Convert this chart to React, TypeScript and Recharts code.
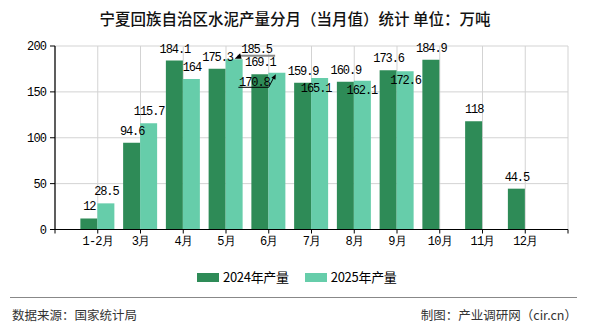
import React from "react";
import { BarChart, Bar, XAxis, YAxis, CartesianGrid, LabelList } from "recharts";

const categories = ["1-2月", "3月", "4月", "5月", "6月", "7月", "8月", "9月", "10月", "11月", "12月"];
const output2024 = [12, 94.6, 184.1, 175.3, 169.1, 159.9, 160.9, 173.6, 184.9, 118, 44.5];
const output2025: (number | null)[] = [28.5, 115.7, 164, 185.5, 170.8, 165.1, 162.1, 172.6, null, null, null];
const yTicks = [0, 50, 100, 150, 200];
const seriesNames = ["2024年产量", "2025年产量"];

const COLOR_2024 = "#2e8b57";
const COLOR_2025 = "#66cdaa";
const MONO = "'Liberation Mono', 'DejaVu Sans Mono', monospace";
const CJK = "'Noto Sans CJK SC', 'Noto Sans', sans-serif";

const rows = categories.map((c, i) => ({ x: i + 1, name: c, y2024: output2024[i], y2025: output2025[i] }));
const xTicks = Array.from({ length: categories.length + 2 }, (_, i) => i);

// label nudges (to avoid overlaps, as in the reference)
const nudge2025: Record<number, { dx: number; dy: number; leader?: "gray" | "arrow" }> = {
  3: { dx: 22, dy: 1.5, leader: "gray" },
  4: { dx: -23, dy: 21.5, leader: "arrow" },
  5: { dx: -4, dy: 21.5 },
  6: { dx: -1, dy: 21.5 },
  7: { dx: 0, dy: 21 },
};

const labelStyle = { fontFamily: MONO, fontSize: 12, letterSpacing: -1.1, fill: "#000" };

function makeLabel(series: "a" | "b") {
  return (props: any) => {
    const { x, y, width, value, index } = props;
    if (value === null || value === undefined) return null;
    const cx = Number(x) + Number(width) / 2;
    const top = Number(y);
    const n = series === "b" ? nudge2025[index] : undefined;
    const lx = cx + (n ? n.dx : 0);
    const ly = top - 8 + (n ? n.dy : 0);
    return (
      <g key={`lab-${series}-${index}`}>
        {n && n.leader === "gray" && (
          <g>
            <line x1={cx + 3.5} y1={top - 3.6} x2={cx + 41} y2={top - 3.6} stroke="#888" strokeWidth={2} />
            <polygon points={`${cx + 0.5},${top - 0.5} ${cx + 7.5},${top - 0.5} ${cx + 6},${top - 6}`} fill="#000" />
          </g>
        )}
        {n && n.leader === "arrow" && (
          <g>
            <polyline
              points={`${cx - 38.5},${top + 14.5} ${cx - 8.2},${top + 14.5} ${cx - 3},${top + 4.5}`}
              fill="none"
              stroke="#000"
              strokeWidth={1}
            />
            <polygon points={`${cx - 1},${top + 1.5} ${cx - 5.5},${top + 5} ${cx - 1.5},${top + 7}`} fill="#000" />
          </g>
        )}
        <text x={lx + 0.5} y={ly} textAnchor="middle" {...labelStyle}>
          {String(value)}
        </text>
      </g>
    );
  };
}

export default function App() {
  return (
    <div style={{ position: "absolute", left: 0, top: 0, width: 590, height: 330, background: "#fff", overflow: "hidden" }}>
      <div
        style={{
          position: "absolute",
          left: 0,
          top: 8,
          width: 590,
          textAlign: "center",
          fontFamily: CJK,
          fontSize: 15.5,
          fontWeight: 500,
          lineHeight: "20px",
          color: "#111",
        }}
      >
        宁夏回族自治区水泥产量分月（当月值）统计 单位：万吨
      </div>
      <div style={{ position: "absolute", left: 0, top: 0 }}>
        <BarChart
          width={590}
          height={330}
          data={rows}
          margin={{ top: 46, right: 22, left: 0, bottom: 70.5 }}
          barGap={0}
        >
          <CartesianGrid stroke="#d3d3d3" strokeWidth={1} />
          <XAxis
            type="number"
            dataKey="x"
            domain={[0, categories.length + 1]}
            ticks={xTicks}
            interval={0}
            allowDecimals={false}
            tickFormatter={(v: number) => categories[v - 1] ?? ""}
            height={30}
            tickSize={4}
            tickMargin={3}
            axisLine={{ stroke: "#000", strokeWidth: 1.2 }}
            tickLine={{ stroke: "#000" }}
            tick={{ fontFamily: `${MONO}`, fontSize: 12, letterSpacing: -0.8, fill: "#000" } as any}
          />
          <YAxis
            type="number"
            domain={[0, 200]}
            ticks={yTicks}
            width={55}
            tickSize={5}
            tickMargin={4}
            axisLine={{ stroke: "#000", strokeWidth: 1.2 }}
            tickLine={{ stroke: "#000" }}
            tick={{ fontFamily: MONO, fontSize: 12, letterSpacing: -0.9, fill: "#000" } as any}
          />
          <Bar dataKey="y2024" name={seriesNames[0]} fill={COLOR_2024} barSize={17} isAnimationActive={false}>
            <LabelList dataKey="y2024" content={makeLabel("a")} />
          </Bar>
          <Bar dataKey="y2025" name={seriesNames[1]} fill={COLOR_2025} barSize={17} isAnimationActive={false}>
            <LabelList dataKey="y2025" content={makeLabel("b")} />
          </Bar>
        </BarChart>
      </div>
      {/* legend */}
      <div
        style={{
          position: "absolute",
          left: 197,
          top: 268,
          display: "flex",
          alignItems: "center",
          fontFamily: CJK,
          fontSize: 13,
          color: "#000",
          lineHeight: "18px",
        }}
      >
        <span style={{ display: "inline-block", width: 22, height: 9, background: COLOR_2024, marginRight: 4 }} />
        <span style={{ letterSpacing: -0.3 }}>{seriesNames[0]}</span>
        <span style={{ display: "inline-block", width: 22, height: 9, background: COLOR_2025, marginLeft: 16, marginRight: 4 }} />
        <span style={{ letterSpacing: -0.3 }}>{seriesNames[1]}</span>
      </div>
      {/* footer */}
      <div style={{ position: "absolute", left: 10, top: 296.5, width: 567, height: 1.5, background: "#888" }} />
      <div
        style={{
          position: "absolute",
          left: 12,
          top: 306,
          fontFamily: CJK,
          fontSize: 12.5,
          color: "#333",
          lineHeight: "18px",
        }}
      >
        数据来源：国家统计局
      </div>
      <div
        style={{
          position: "absolute",
          right: 13,
          top: 306,
          fontFamily: CJK,
          fontSize: 12.5,
          color: "#333",
          lineHeight: "18px",
          whiteSpace: "nowrap",
        }}
      >
        制图：产业调研网（cir.cn）
      </div>
    </div>
  );
}
